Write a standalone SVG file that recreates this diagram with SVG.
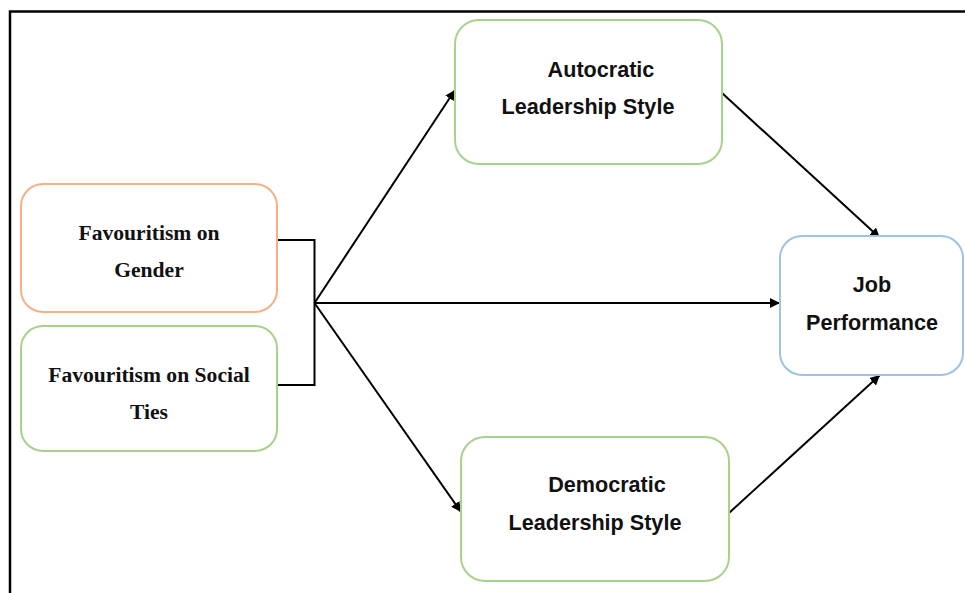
<svg xmlns="http://www.w3.org/2000/svg" width="965" height="593" viewBox="0 0 965 593">
<style>
.box{fill:#fff;stroke-width:2}
.green{stroke:#A9D18E}
.orange{stroke:#F4B183}
.blue{stroke:#9DC3E6}
.serif{font-family:"Liberation Serif","Times New Roman",serif;font-weight:bold;font-size:21.6px;fill:#111;text-anchor:middle}
.sans{font-family:"Liberation Sans",Arial,sans-serif;font-weight:bold;font-size:21.6px;fill:#111;text-anchor:middle}
.conn{stroke:#000;stroke-width:2;fill:none}
</style>
<defs>
<marker id="arr" viewBox="0 0 10 10" refX="10" refY="5" markerWidth="5" markerHeight="5" orient="auto" markerUnits="strokeWidth">
<path d="M0,0 L10,5 L0,10 z" fill="#000"/>
</marker>
</defs>
<rect width="965" height="593" fill="#fff"/>
<g id="frame">
<path d="M10,593 V11.5 H965" stroke="#000" stroke-width="2.5" fill="none"/>
</g>
<g id="connectors">
<path class="conn" d="M277,240 H314.5 V385 H277"/>
<path class="conn" d="M314.5,303 L455,90" marker-end="url(#arr)"/>
<path class="conn" d="M314.5,303 L780,303" marker-end="url(#arr)"/>
<path class="conn" d="M314.5,303 L461,512" marker-end="url(#arr)"/>
<path class="conn" d="M722,93 L880,238" marker-end="url(#arr)"/>
<path class="conn" d="M729,513 L880,375" marker-end="url(#arr)"/>
</g>
<g id="gender">
<rect class="box orange" x="21" y="184" width="256" height="128" rx="22"/>
<text class="serif" x="149" y="240">Favouritism on</text>
<text class="serif" x="149" y="277">Gender</text>
</g>
<g id="social">
<rect class="box green" x="21" y="326" width="256" height="125" rx="22"/>
<text class="serif" x="149" y="382">Favouritism on Social</text>
<text class="serif" x="149" y="419">Ties</text>
</g>
<g id="autocratic">
<rect class="box green" x="455" y="20" width="267" height="144" rx="24"/>
<text class="sans" x="601" y="77">Autocratic</text>
<text class="sans" x="588" y="114">Leadership Style</text>
</g>
<g id="democratic">
<rect class="box green" x="461" y="437" width="268" height="144" rx="24"/>
<text class="sans" x="607" y="492">Democratic</text>
<text class="sans" x="595" y="530">Leadership Style</text>
</g>
<g id="job">
<rect class="box blue" x="780" y="236" width="183" height="139" rx="22"/>
<text class="sans" x="872" y="292">Job</text>
<text class="sans" x="872" y="330">Performance</text>
</g>
</svg>
